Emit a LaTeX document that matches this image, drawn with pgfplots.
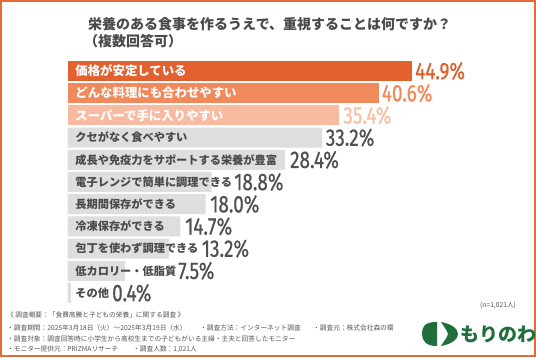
\documentclass[border=0pt]{standalone}
\usepackage{pgfplots}
\pgfplotsset{compat=1.18}
\usepackage{fontspec}
\setmainfont{Noto Sans CJK JP}
\newfontfamily\numfont[FakeStretch=0.79, FakeBold=0.6]{Fira Sans}
\definecolor{frame}{HTML}{E66A35}
\definecolor{c1}{HTML}{E2612E}
\definecolor{c2}{HTML}{F0895B}
\definecolor{c3}{HTML}{F8BBA2}
\definecolor{cg}{HTML}{DEDEDE}
\definecolor{v1}{HTML}{E0602C}
\definecolor{v2}{HTML}{F08858}
\definecolor{v3}{HTML}{F8BFA5}
\definecolor{vg}{HTML}{505050}
\definecolor{tg}{HTML}{4A4A4A}
\definecolor{fg}{HTML}{555555}
\definecolor{logo}{HTML}{1F6E3B}
\begin{document}
\begin{tikzpicture}[x=1pt,y=1pt,
  lab/.style={anchor=west, inner sep=0pt, xshift=7.5pt, text=tg, font=\bfseries\fontsize{11.2}{13}\selectfont},
  labw/.style={anchor=west, inner sep=0pt, xshift=7.5pt, text=white, font=\bfseries\fontsize{12.4}{14}\selectfont},
  val/.style={anchor=west, inner sep=0pt, font=\numfont\fontsize{24}{25}\selectfont}]
\path[use as bounding box] (0,0) rectangle (536,357);
\fill[frame] (0,0) rectangle (536,357);
\fill[white] (2,2) rectangle (533.5,355);
% title
\node[anchor=west, inner sep=0pt, text=tg, font=\bfseries\fontsize{14}{16}\selectfont] at (88,333) {栄養のある食事を作るうえで、重視することは何ですか？};
\node[anchor=west, inner sep=0pt, text=tg, font=\bfseries\fontsize{14}{16}\selectfont] at (84,316) {（複数回答可）};
\begin{axis}[scale only axis,
  width=536pt, height=357pt, xmin=-8.838, xmax=61.136, ymin=-12.883, ymax=3.198,
  hide axis, xbar, bar width=20pt, bar shift=0pt, clip=false]
\addplot[draw=none, fill=c1] coordinates {(44.9,0)};
\addplot[draw=none, fill=c2] coordinates {(40.6,-1)};
\addplot[draw=none, fill=c3] coordinates {(35.4,-2)};
\addplot[draw=none, fill=cg] coordinates {(33.2,-3) (28.4,-4) (18.8,-5) (18.0,-6) (14.7,-7) (13.2,-8) (7.5,-9) (0.4,-10)};
\node[labw] at (axis cs:0,0) {価格が安定している};
\node[labw] at (axis cs:0,-1) {どんな料理にも合わせやすい};
\node[labw] at (axis cs:0,-2) {スーパーで手に入りやすい};
\node[lab] at (axis cs:0,-3) {クセがなく食べやすい};
\node[lab] at (axis cs:0,-4) {成長や免疫力をサポートする栄養が豊富};
\node[lab] at (axis cs:0,-5) {電子レンジで簡単に調理できる};
\node[lab] at (axis cs:0,-6) {長期間保存ができる};
\node[lab] at (axis cs:0,-7) {冷凍保存ができる};
\node[lab] at (axis cs:0,-8) {包丁を使わず調理できる};
\node[lab] at (axis cs:0,-9) {低カロリー・低脂質};
\node[lab] at (axis cs:0,-10) {その他};
\node[val, text=v1] at (axis cs:45.34,0) {44.9\%};
\node[val, text=v2] at (axis cs:40.99,-1) {40.6\%};
\node[val, text=v3] at (axis cs:35.98,-2) {35.4\%};
\node[val, text=vg] at (axis cs:33.68,-3) {33.2\%};
\node[val, text=vg] at (axis cs:29.02,-4) {28.4\%};
\node[val, text=vg] at (axis cs:21.71,-5) {18.8\%};
\node[val, text=vg] at (axis cs:18.58,-6) {18.0\%};
\node[val, text=vg] at (axis cs:15.31,-7) {14.7\%};
\node[val, text=vg] at (axis cs:17.49,-8) {13.2\%};
\node[val, text=vg] at (axis cs:14.40,-9) {7.5\%};
\node[val, text=vg] at (axis cs:5.78,-10) {0.4\%};
\end{axis}
% footnotes
\begin{scope}[every node/.style={anchor=west, inner sep=0pt, text=fg, font=\fontsize{6.7}{8}\selectfont}]
\node at (7,42) {《 調査概要：「食費高騰と子どもの栄養」に関する調査 》};
\node at (7,29.5) {・調査期間：2025年3月18日（火）～2025年3月19日（水）};
\node at (200,29.5) {・調査方法：インターネット調査};
\node at (313,29.5) {・調査元：株式会社森の環};
\node at (7,18.5) {・調査対象：調査回答時に小学生から高校生までの子どもがいる主婦・主夫と回答したモニター};
\node at (7,8) {・モニター提供元：PRIZMAリサーチ};
\node at (133,8) {・調査人数：1,021人};
\node at (480,52) {(n=1,021人)};
\end{scope}
% logo
\fill[logo] (437,35) .. controls (424,35) and (422,30) .. (422,23) .. controls (422,16) and (426,11) .. (437,11) -- cycle;
\fill[logo] (441,35) .. controls (452,33) and (458,28) .. (458,23) .. controls (458,18) and (452,13) .. (441,11) .. controls (444,16) and (447,19) .. (448,23) .. controls (447,27) and (444,30) .. (441,35) -- cycle;
\node[anchor=west, inner sep=0pt, text=logo, font=\bfseries\fontsize{19}{20}\selectfont] at (460,23) {もりのわ};
\end{tikzpicture}
\end{document}
